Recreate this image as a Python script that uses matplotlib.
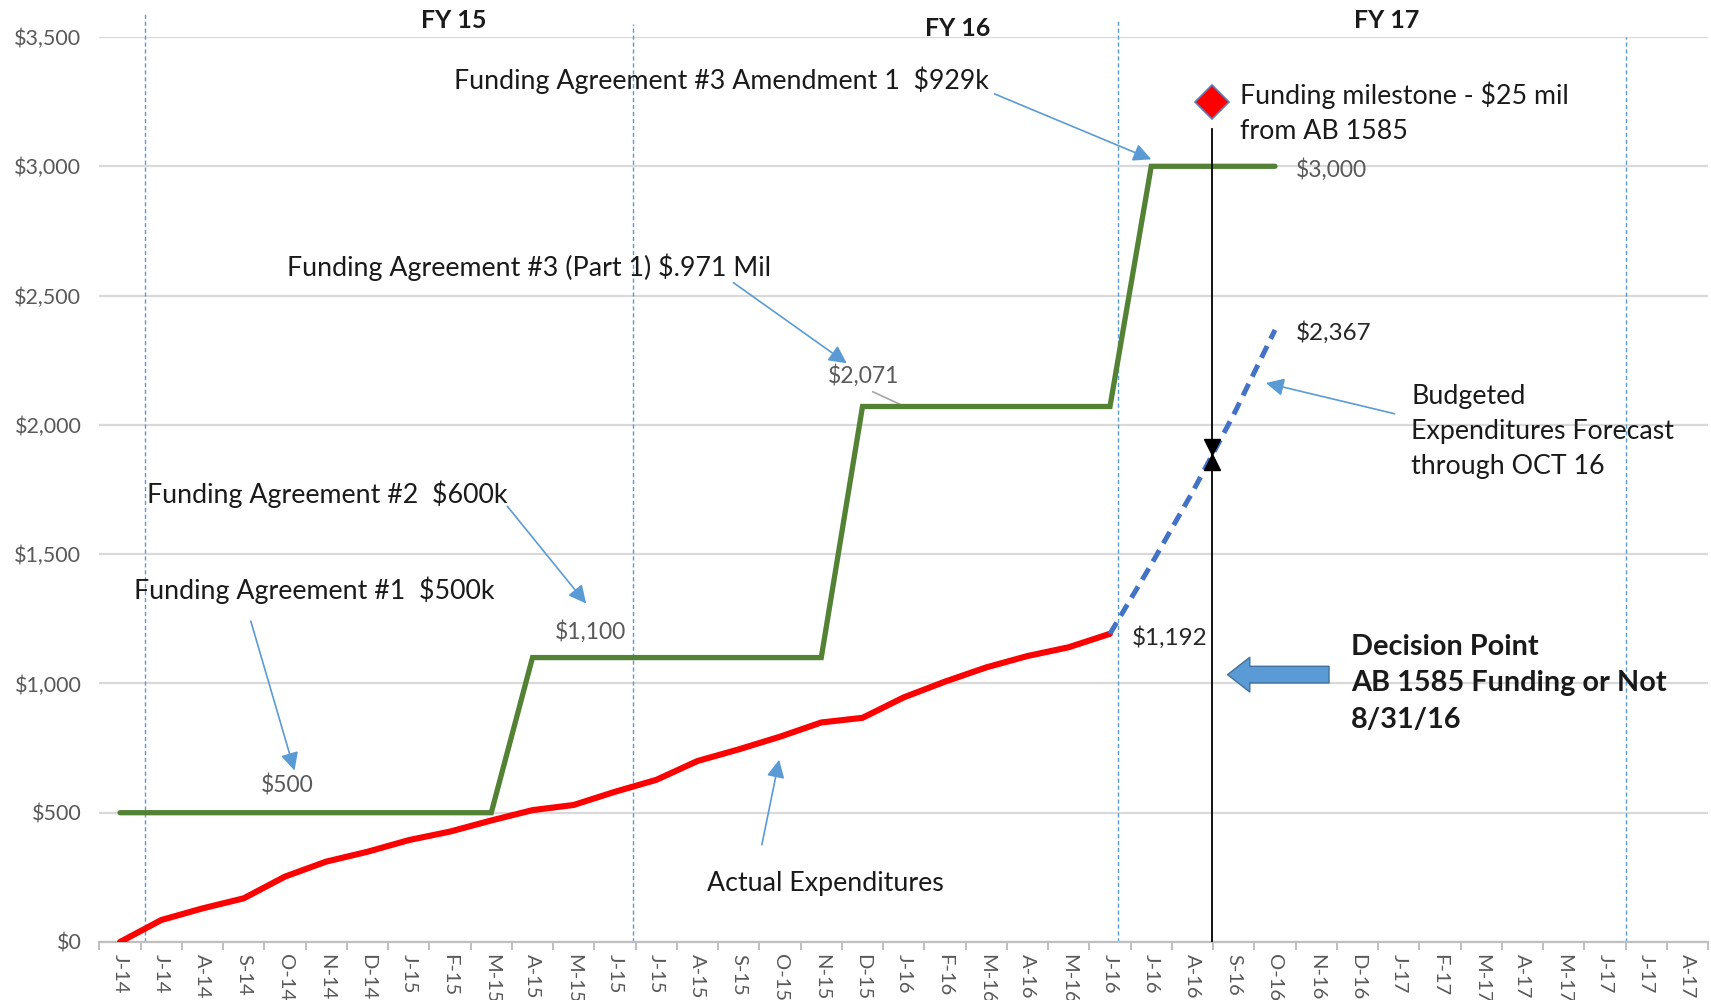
import numpy as np
import matplotlib
matplotlib.use("Agg")
import matplotlib.pyplot as plt
from matplotlib.transforms import ScaledTranslation

# ---------------- data ----------------
months = ["J-14", "J-14", "A-14", "S-14", "O-14", "N-14", "D-14", "J-15", "F-15", "M-15",
          "A-15", "M-15", "J-15", "J-15", "A-15", "S-15", "O-15", "N-15", "D-15", "J-16",
          "F-16", "M-16", "A-16", "M-16", "J-16", "J-16", "A-16", "S-16", "O-16", "N-16",
          "D-16", "J-17", "F-17", "M-17", "A-17", "M-17", "J-17", "J-17", "A-17"]

# cumulative funding ($k), months 0..28
funding = [500, 500, 500, 500, 500, 500, 500, 500, 500, 500,
           1100, 1100, 1100, 1100, 1100, 1100, 1100, 1100,
           2071, 2071, 2071, 2071, 2071, 2071, 2071,
           3000, 3000, 3000, 3000]

# actual expenditures ($k), months 0..24
actual = [0, 85, 130, 169, 253, 311, 349, 394, 427, 470,
          510, 530, 581, 627, 700, 745, 794, 849, 867, 946,
          1007, 1062, 1106, 1140, 1192]

# budgeted forecast ($k), months 24..28
forecast_start = 24
forecast = [1192, 1460, 1740, 2040, 2367]

decision_x = 26.48          # 8/31/16
milestone_value = 3250
fy_lines = [0.6, 12.44, 24.19, 36.5]
fy_line_tops = [3590, 3550, 3565, 3500]
fy_labels = ["FY 15", "FY 16", "FY 17"]

yticks = [0, 500, 1000, 1500, 2000, 2500, 3000, 3500]

# ---------------- style ----------------
FONT = "Lato"
plt.rcParams["font.family"] = [FONT, "DejaVu Sans"]
GREEN = "#548235"
RED = "#FF0000"
BLUE = "#4472C4"
ARROW = "#5B9BD5"
GRID = "#D9D9D9"
TICKC = "#595959"
TXT = "#1a1a1a"
NOTE_FS = 19.3

fig = plt.figure(figsize=(17.11, 10), dpi=100)
ax = fig.add_axes([99.4 / 1711, 0.058, 1608.7 / 1711, 0.905])

n = len(months)
ax.set_xlim(-0.5, n - 0.5)
ax.set_ylim(0, 3500)

# grid
ax.set_yticks(yticks)
ax.set_yticklabels([f"${v:,}" for v in yticks])
ax.yaxis.grid(True, color=GRID, lw=1.6)
ax.set_axisbelow(True)
ax.tick_params(axis="y", length=0, pad=13, labelsize=15.5, labelcolor=TICKC)

for s in ["top", "right", "left"]:
    ax.spines[s].set_visible(False)
ax.spines["bottom"].set_color("#BFBFBF")
ax.spines["bottom"].set_linewidth(1.6)

ax.set_xticks(np.arange(n))
ax.set_xticklabels(months, rotation=-90, fontsize=14.5, color=TICKC)
ax.set_xticks(np.arange(n + 1) - 0.5, minor=True)
ax.tick_params(axis="x", which="major", length=0, pad=9)
ax.tick_params(axis="x", which="minor", length=6, width=1.4, color="#BFBFBF")

# fiscal year separators
for xv, top in zip(fy_lines, fy_line_tops):
    ax.plot([xv, xv], [0, top], color=ARROW, lw=1.0, ls=(0, (3, 2)), clip_on=False, zorder=1)

# series
xf = np.arange(len(funding))
ax.plot(xf, funding, color=GREEN, lw=3.8, solid_capstyle="round", solid_joinstyle="miter", zorder=3)
xa = np.arange(len(actual))
ax.plot(xa, actual, color=RED, lw=4.4, solid_capstyle="round", solid_joinstyle="round", zorder=4)
xfc = np.arange(forecast_start, forecast_start + len(forecast))
ax.plot(xfc, forecast, color=BLUE, lw=3.6, ls=(0, (2.6, 1.6)), dash_capstyle="butt", zorder=4)

# decision line, milestone diamond, intersection markers
ax.plot([decision_x, decision_x], [0, milestone_value - 105], color="black", lw=1.3, zorder=5)
ax.plot([decision_x], [milestone_value], marker="D", ms=17, mfc="#FF0000", mec="#5B7DB8",
        mew=1.2, clip_on=False, zorder=6)
y_int = np.interp(decision_x, xfc, forecast)
ms = 11
up = ax.transData + ScaledTranslation(0, ms / 2 / 72, fig.dpi_scale_trans)
dn = ax.transData + ScaledTranslation(0, -ms / 2 / 72, fig.dpi_scale_trans)
ax.plot([decision_x], [y_int], marker="v", ms=ms, color="black", transform=up, zorder=6)
ax.plot([decision_x], [y_int], marker="^", ms=ms, color="black", transform=dn, zorder=6)

# FY headers
fy_pos = [(8.1, 3563), (20.3, 3534), (30.7, 3563)]
for lab, (xx, yy) in zip(fy_labels, fy_pos):
    ax.text(xx, yy, lab, ha="center", va="center", fontsize=18, fontweight="bold",
            color=TXT, clip_on=False)

# data labels
def dlabel(x, y, txt, dx, dy, color=TICKC, ha="left", fs=16.5):
    ax.annotate(txt, xy=(x, y), xytext=(dx, dy), textcoords="offset points",
                ha=ha, va="center", fontsize=fs, color=color)

dlabel(4, funding[4], f"${funding[4]:,}", 1.5, 19.5, ha="center")
dlabel(11, funding[11], f"${funding[11]:,}", 12, 18.5, ha="center")
dlabel(18, funding[18], f"${funding[18]:,}", 1, 22.5, ha="center")
dlabel(len(funding) - 1, funding[-1], f"${funding[-1]:,}", 15, -2)
dlabel(len(actual) - 1, actual[-1], f"${actual[-1]:,}", 16, -2.5, color="#262626", fs=17.5)
dlabel(xfc[-1], forecast[-1], f"${forecast[-1]:,}", 15, -2, color="#262626", fs=17.5)
# leader line for $2,071
ax.plot([18.25, 19.05], [2128, 2069], color="#A6A6A6", lw=1.2, zorder=2)

# annotations
def note(x, y, txt, **kw):
    kw.setdefault("fontsize", NOTE_FS)
    ax.text(x, y, txt, ha=kw.pop("ha", "left"), va="center", color=TXT,
            linespacing=kw.pop("linespacing", 1.3), clip_on=False, **kw)

def arrow(x0, y0, x1, y1):
    ax.annotate("", xy=(x1, y1), xytext=(x0, y0),
                arrowprops=dict(arrowstyle="-|>,head_length=0.6,head_width=0.3",
                                color=ARROW, lw=1.2, mutation_scale=18,
                                shrinkA=0, shrinkB=0), zorder=5)

note(8.1, 3331, "Funding Agreement #3 Amendment 1  $929k")
arrow(21.2, 3280, 25.0, 3027)
note(27.14, 3206, "Funding milestone - $25 mil\nfrom AB 1585", linespacing=1.5)
note(4.05, 2609, "Funding Agreement #3 (Part 1) $.971 Mil")
arrow(14.87, 2550, 17.62, 2238)
note(31.3, 1976, "Budgeted\nExpenditures Forecast\nthrough OCT 16", linespacing=1.5)
arrow(30.9, 2043, 27.78, 2162)
note(0.66, 1731, "Funding Agreement #2  $600k")
arrow(9.39, 1685, 11.3, 1309)
note(0.34, 1359, "Funding Agreement #1  $500k")
arrow(3.17, 1241, 4.23, 663)
note(29.84, 1001, "Decision Point\nAB 1585 Funding or Not\n8/31/16", fontsize=20.8,
     fontweight="bold", linespacing=1.5)
ax.annotate("", xy=(26.85, 1034), xytext=(29.31, 1034),
            arrowprops=dict(arrowstyle="simple,head_length=0.8,head_width=1.25,tail_width=0.6",
                            fc=ARROW, ec="#41719C", lw=1.0, mutation_scale=20,
                            shrinkA=0, shrinkB=0), zorder=5)
note(17.1, 228, "Actual Expenditures", ha="center")
arrow(15.56, 376, 15.98, 705)

fig.savefig("out.png", dpi=100, facecolor="white")
